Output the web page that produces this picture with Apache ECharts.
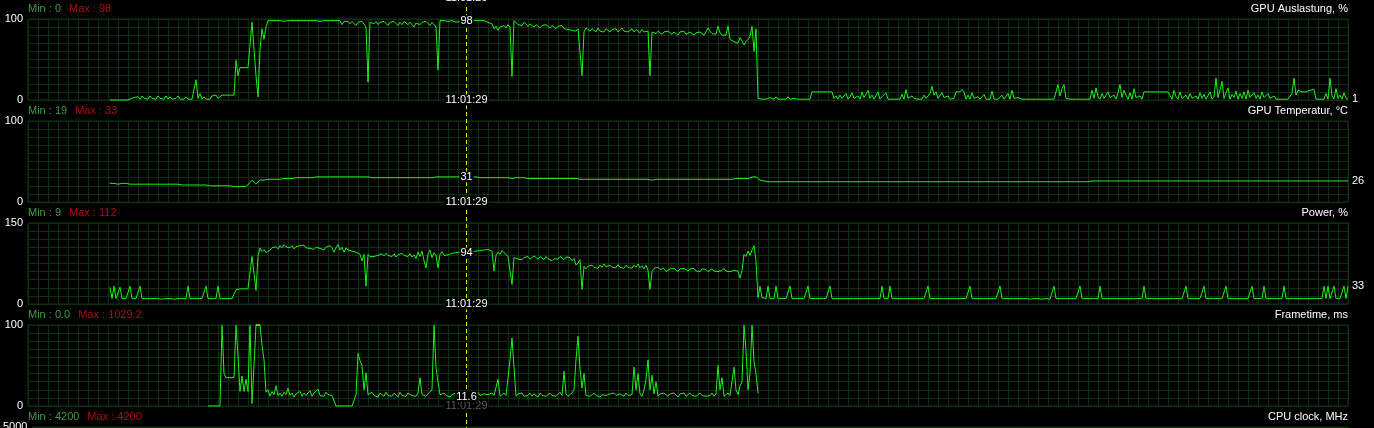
<!DOCTYPE html>
<html><head><meta charset="utf-8">
<script src="https://cdn.jsdelivr.net/npm/echarts@6/dist/echarts.min.js"></script>
<style>html,body{margin:0;padding:0;background:#000;}#c{width:1374px;height:428px;}</style>
</head><body><div id="c"></div>
<script>
// ---- data ----
const panelTitles = ['GPU Auslastung, %', 'GPU Temperatur, °C', 'Power, %', 'Frametime, ms', 'CPU clock, MHz'];
const axisMax = [100, 100, 150, 100, 5000];
const minLabels = ['0', '19', '9', '0.0', '4200'];
const maxLabels = ['98', '33', '112', '1029.2', '4200'];
const cursorTime = '11:01:29';
const cursorT = 219;        // sample time of the cursor
const sampleStart = 41;     // first sample time of the full-length series
const frameStart = 90;      // first sample time of the frametime series

const gpuUsage = [
0,0,0,0,0,0,0,0,0,1, 1,1,3,1,4,1,5,2,4,1, 5,2,4,1,5,2,3,1,5,1, 4,1,3,2,5,1,3,1,4,1,
3,1,2,25,2,8,1,4,1,3, 1,5,3,6,2,1,6,6,6,6, 6,6,6,49,30,40,40,40,40,40, 40,96,96,30,4,62,88,75,90,98,
98,98,97,98,98,98,98,97,98,98, 98,98,98,98,98,98,97,98,98,98, 98,98,98,98,98,97,98,98,98,98, 98,98,97,98,96,98,93,97,95,97,
94,97,95,92,96,94,97,95,90,22, 96,97,94,97,93,96,94,97,95,92, 96,94,97,95,92,96,93,97,95,93, 96,93,90,95,97,93,96,94,97,95,
92,96,94,90,37,98,98,98,98,97, 96,98,97,96,98,97,98,96,98,98, 97,98,96,98,97,98,96,98,97,96, 98,94,88,91,86,90,88,92,89,93,
90,29,98,96,93,95,92,96,94,91, 94,92,90,93,91,89,92,90,93,91, 89,92,90,88,91,89,92,88,90,87, 89,86,88,85,88,86,30,84,89,87,
85,88,86,84,89,85,87,84,88,86, 84,87,85,88,84,86,89,85,87,84, 86,88,84,87,85,83,87,84,86,85, 30,84,86,82,85,83,81,84,82,85,
83,81,84,82,80,84,82,85,81,83, 84,82,80,83,81,84,82,80,84,89, 85,82,84,81,91,83,80,78,80,91, 75,76,72,74,70,77,73,68,72,75,
78,91,60,88,2,1,1,1,1,1, 3,1,1,4,1,3,1,2,1,4, 1,1,2,1,1,1,1,1,1,1, 1,10,10,10,10,10,10,10,10,10,
10,10,2,5,1,6,2,1,8,1, 4,9,2,1,5,1,10,3,1,12, 2,6,1,3,10,1,4,2,9,1, 2,1,3,1,2,1,7,1,13,2,
1,5,2,1,1,3,1,6,2,1, 8,17,6,10,2,1,9,3,1,5, 1,1,2,10,10,10,13,10,1,6, 1,9,2,1,4,1,1,7,1,2,
1,11,1,3,1,1,6,1,2,8, 1,12,2,1,3,1,1,1,1,1, 1,2,1,1,1,1,1,1,1,1, 1,1,1,3,19,5,14,19,2,1,
1,1,1,1,1,1,1,1,1,1, 1,12,2,15,4,1,8,2,1,10, 3,1,6,1,9,19,3,12,6,1, 9,1,14,3,1,5,1,10,10,10,
10,10,10,10,10,10,10,10,10,10, 10,1,12,4,1,10,2,1,6,1, 8,2,1,5,1,9,2,7,1,3, 10,1,4,27,3,12,23,2,9,15,
1,7,3,11,1,8,2,10,1,12, 3,1,9,2,6,1,10,3,1,8, 2,1,5,1,3,1,2,1,1,1, 1,8,27,6,12,10,10,10,10,12,
12,12,13,1,1,1,3,1,8,1, 27,5,1,14,2,6,1,9,2,1
];

const gpuTemp = [
23,23,23,23,22,23,23,23,23,22, 22,22,22,22,22,22,22,22,22,22, 22,22,22,22,22,22,22,22,22,22, 22,22,22,22,22,22,21,21,21,21,
21,21,21,21,21,21,21,21,21,21, 20,20,20,20,20,20,20,20,20,20, 20,19,19,19,19,19,19,19,19,19, 24,27,27,22,22,27,27,27,27,28,
28,28,28,28,28,28,28,29,29,29, 29,29,29,30,30,30,30,30,30,30, 30,30,30,31,31,31,31,31,31,31, 31,31,31,31,31,31,31,31,31,31,
31,31,31,31,31,31,31,31,31,31, 31,30,30,30,30,30,30,30,30,30, 30,30,30,30,30,30,30,30,30,30, 30,30,30,30,30,30,30,30,30,30,
30,30,30,31,31,31,31,31,31,31, 31,31,31,31,31,31,31,31,31,31, 31,31,31,31,31,30,30,30,30,30, 30,30,30,30,30,30,30,30,30,30,
29,29,30,30,30,30,30,30,30,29, 29,29,29,29,29,29,29,29,29,29, 29,29,29,29,29,29,29,29,29,29, 29,29,29,29,28,28,28,28,28,28,
28,28,28,28,28,28,28,28,28,28, 28,28,28,28,28,28,28,28,28,28, 28,28,28,28,28,28,28,28,28,28, 26,27,28,28,28,28,28,28,28,28,
28,28,28,28,28,28,28,28,28,28, 28,28,28,28,28,28,28,28,28,28, 28,28,28,28,28,28,28,28,28,28, 28,28,29,29,29,29,29,29,29,29,
29,31,31,31,30,27,26,26,25,25, 25,25,25,25,25,25,25,25,25,25, 25,25,25,25,25,25,25,25,25,25, 25,25,25,25,25,25,25,25,25,25,
25,25,25,25,25,25,25,25,25,25, 25,25,25,25,25,25,25,25,25,25, 25,25,25,25,25,25,25,25,25,25, 25,25,25,25,25,25,25,25,25,25,
25,25,25,25,25,25,25,25,25,25, 25,25,25,25,25,25,25,25,25,25, 25,25,25,25,25,25,25,25,25,25, 25,25,25,25,25,25,25,25,25,25,
25,25,25,25,25,25,25,25,25,25, 25,25,25,25,25,25,25,25,25,25, 25,25,25,25,25,25,25,25,25,25, 25,25,25,25,25,25,25,25,25,25,
25,25,25,25,25,25,25,25,25,25, 26,26,26,26,26,26,26,26,26,26, 26,26,26,26,26,26,26,26,26,26, 26,26,26,26,26,26,26,26,26,26,
26,26,26,26,26,26,26,26,26,26, 26,26,26,26,26,26,26,26,26,26, 26,26,26,26,26,26,26,26,26,26, 26,26,26,26,26,26,26,26,26,26,
26,26,26,26,26,26,26,26,26,26, 26,26,26,26,26,26,26,26,26,26, 26,26,26,26,26,26,26,26,26,26, 26,26,26,26,26,26,26,26,26,26,
26,26,26,26,26,26,26,26,26,26, 26,26,26,26,26,26,26,26,26,26
];

const power = [
31,10,33,10,10,31,10,10,10,10, 33,10,10,10,10,33,10,10,10,10, 10,10,10,9,10,10,9,10,10,10, 10,10,9,10,10,10,10,10,10,33,
10,10,10,10,10,10,10,10,33,10, 10,10,10,10,33,10,10,10,10,10, 10,10,10,26,28,28,28,28,28,28, 30,88,91,25,88,104,97,101,95,97,
100,104,101,106,102,108,104,110,106,109, 104,108,102,106,103,108,105,109,104,107, 103,106,101,105,108,103,106,100,105,102, 108,104,96,104,110,100,105,96,104,100,
102,98,100,96,98,92,80,92,33,92, 88,85,88,86,90,87,93,89,94,90, 92,88,93,87,91,88,94,90,92,88, 93,87,91,84,96,88,98,80,67,93,
100,86,95,90,67,92,97,90,93,91, 92,94,93,95,93,96,94,95,94,98, 100,97,99,98,100,99,101,100,99,101, 100,98,61,90,96,92,99,95,92,88,
88,36,86,84,83,85,82,86,84,88, 83,85,89,86,83,88,85,82,88,84, 87,80,84,86,83,88,85,82,87,84, 86,80,84,72,76,82,27,70,65,70,
67,72,68,70,66,72,68,74,69,66, 72,68,71,67,73,68,70,66,72,68, 70,66,72,68,74,67,71,65,72,62, 27,60,66,63,68,64,62,66,60,63,
65,62,66,63,60,65,62,66,63,61, 65,62,66,61,64,60,65,62,64,60, 62,65,61,64,60,63,62,66,61,64, 60,63,62,65,61,48,62,92,88,98,
90,100,108,80,12,33,12,10,10,33, 10,10,10,33,10,10,10,10,10,10, 33,10,10,10,10,10,10,10,10,33, 10,10,10,10,10,10,10,10,10,10,
33,10,10,10,10,10,10,10,10,10, 10,10,10,10,10,10,10,10,10,10, 10,10,10,10,10,10,33,10,10,10, 33,10,10,10,10,10,10,10,10,10,
10,10,10,10,10,10,10,10,10,33, 10,10,10,10,10,10,10,10,10,10, 10,10,10,10,10,10,10,10,10,10, 33,10,10,10,10,10,10,10,10,10,
10,10,10,10,10,33,10,10,10,10, 10,10,10,10,10,10,10,10,10,10, 9,9,10,10,10,10,9,10,10,10, 9,9,33,10,10,10,10,10,10,10,
10,10,10,10,10,33,10,10,10,10, 10,10,10,10,10,33,10,10,10,10, 10,10,10,10,10,10,10,10,10,10, 10,10,10,10,10,10,10,33,10,10,
10,10,10,10,10,10,10,10,10,10, 10,10,10,10,10,10,10,10,33,10, 10,10,10,10,10,10,10,33,10,10, 10,10,10,10,10,10,10,10,33,10,
10,10,10,10,10,10,10,10,10,10, 10,33,10,10,10,10,10,33,10,10, 10,10,10,10,10,10,10,33,10,10, 10,10,10,10,10,10,10,10,10,10,
10,10,10,10,10,10,10,33,10,33, 10,10,33,10,10,10,10,33,10,33
];

const frametime = [
0,0,0,0,0,0,0,99.5,40,35, 35,35,35,35,99.5,62,18,37,18,33, 18,99.5,3,50,100,100,100,75,57,17,
20,12,18,14,25,13,16,12,17,14, 22,13,16,11,15,14,18,12,16,13, 15,19,12,16,14,21,13,15,12,17,
14,16,13,15,0,0,0,0,0,0, 0,0,0,0,14,65,56,50,20,41, 14,12,17,13,15,11,16,14,12,17,
13,15,12,16,14,11,17,13,15,12, 16,14,13,15,12,16,35,14,13,12, 15,14,20,99.5,48,30,14,12,16,13,
15,11,14,12,16,13,15,11,14,11.6, 16,13,15,12,14,17,13,11,15,13, 14,12,16,13,15,33,12,14,16,13,
35,57,84,48,12,15,13,16,12,14, 13,16,12,15,14,11,16,13,15,12, 14,16,13,15,12,14,17,13,43,15,
12,14,16,20,57,86,46,22,40,13, 15,12,14,16,13,15,11,14,16,13, 12,15,14,16,13,11,15,14,12,16,
13,15,14,48,20,40,15,12,20,33, 57,20,38,15,30,12,15,13,16,14, 12,15,13,16,14,11,15,13,16,12,
14,16,13,15,12,14,16,13,15,12, 14,13,16,12,15,50,20,35,12,14, 16,13,30,48,20,14,25,30,99.5,68,
20,40,99.5,55,40,16
];

const cpuClockTimes = [41, 660];
const cpuClockValues = [4200, 4200];

// ---- layout / style ----
const LEFT = 28, WIDTH = 1320, TOPS = [19, 121, 223, 325, 427], H = 81;
const GRIDC = '#0c300c', LINEC = '#1ef01e', CLIPC = '#f0f000';
const FONT = '"Liberation Sans", Arial, sans-serif';

const toPairs = (vals, start) => vals.map((v, i) => [start + i, v]);
const seriesData = [
  toPairs(gpuUsage, sampleStart),
  toPairs(gpuTemp, sampleStart),
  toPairs(power, sampleStart),
  toPairs(frametime, frameStart),
  cpuClockTimes.map((t, i) => [t, cpuClockValues[i]])
];
// frametime samples at/above the axis top are drawn in yellow (clipped)
const clippedFrames = toPairs(frametime, frameStart).map(p => p[1] >= axisMax[3] ? p : [p[0], null]);

const chart = echarts.init(document.getElementById('c'), null, {renderer: 'canvas'});
const series = seriesData.map((d, i) => ({
  type: 'line', xAxisIndex: i, yAxisIndex: i, data: d,
  symbol: 'none', showSymbol: false, clip: false, z: 3,
  lineStyle: {color: LINEC, width: 1},
  itemStyle: {color: LINEC},
  endLabel: {show: i < 3, color: '#fff', fontSize: 11, fontFamily: FONT, distance: 4,
    formatter: p => String(p.value[1])}
}));
series.push({type: 'line', xAxisIndex: 3, yAxisIndex: 3, data: clippedFrames, connectNulls: false,
  symbol: 'none', showSymbol: false, clip: false, z: 4, lineStyle: {color: CLIPC, width: 1}});

const option = {
  backgroundColor: '#000',
  animation: false,
  grid: TOPS.map(t => ({left: LEFT, width: WIDTH, top: t, height: H, show: true, borderColor: GRIDC, borderWidth: 1, backgroundColor: 'transparent'})),
  xAxis: TOPS.map((t, i) => ({
    type: 'value', gridIndex: i, min: 0, max: 660, interval: 5,
    axisLine: {show: false}, axisTick: {show: false}, axisLabel: {show: false},
    splitLine: {show: true, lineStyle: {color: GRIDC, width: 1}}
  })),
  yAxis: axisMax.map((m, i) => ({
    type: 'value', gridIndex: i, min: 0, max: m, interval: m / 10,
    axisLine: {show: false}, axisTick: {show: false},
    axisLabel: {color: '#fff', fontSize: 11, fontFamily: FONT, margin: 5,
      formatter: v => (v === 0 || v === m) ? String(v) : ''},
    splitLine: {show: true, lineStyle: {color: GRIDC, width: 1}}
  })),
  series: series
};
chart.setOption(option);

// cursor + labels
const cx = Math.round(chart.convertToPixel({xAxisIndex: 0}, cursorT)) + 0.5;
const g = [];
g.push({type: 'line', z: 50, shape: {x1: cx, y1: 0, x2: cx, y2: 428},
  style: {stroke: '#f2f200', lineWidth: 1, lineDash: [4, 3]}});
const font11 = '11px ' + FONT;
TOPS.forEach((t, i) => {
  g.push({type: 'text', z: 60, x: LEFT, y: t - 10, style: {
    text: '{a|Min : ' + minLabels[i] + '}{b|Max : ' + maxLabels[i] + '}',
    font: font11, textVerticalAlign: 'middle', textAlign: 'left',
    rich: {a: {fill: '#3f9a3f', font: font11}, b: {fill: '#a81010', font: font11, padding: [0, 0, 0, 8]}}
  }});
  g.push({type: 'text', z: 60, x: LEFT + WIDTH, y: t - 10, style: {
    text: panelTitles[i], font: font11, fill: '#fff', textAlign: 'right', textVerticalAlign: 'middle'}});
});
// time labels at panel bottoms (including the panel above the visible area)
const bottoms = [TOPS[0] - 102 + H].concat(TOPS.slice(0, 4).map(t => t + H));
bottoms.forEach((b, i) => {
  g.push({type: 'text', z: 70, x: cx, y: b, style: {
    text: cursorTime, font: font11, fill: i === 4 ? '#5a5a5a' : '#fff', textAlign: 'center', textVerticalAlign: 'middle',
    backgroundColor: '#000', padding: [0, 1]}});
});
// value at cursor
for (let i = 0; i < 4; i++) {
  const d = seriesData[i];
  const pt = d.find(p => p[0] === cursorT);
  if (!pt) continue;
  const py = chart.convertToPixel({yAxisIndex: i}, pt[1]);
  const txt = i === 3 ? pt[1].toFixed(1) : String(pt[1]);
  g.push({type: 'text', z: 80, x: cx, y: py, style: {
    text: txt, font: font11, fill: '#fff', textAlign: 'center', textVerticalAlign: 'middle',
    backgroundColor: '#000', padding: [0, 1]}});
}
chart.setOption({graphic: g});
</script>
</body></html>
